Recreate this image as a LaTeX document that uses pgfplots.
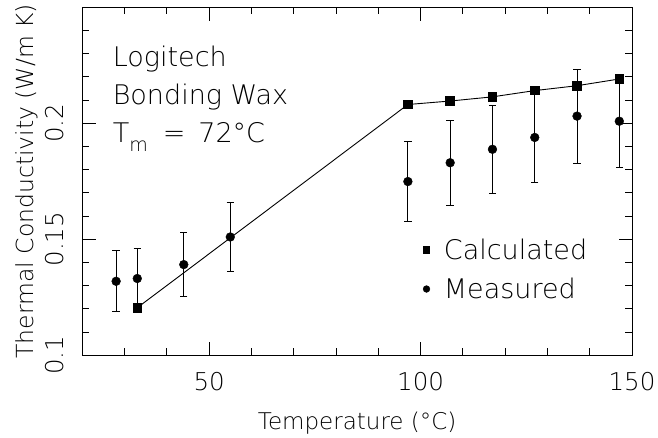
\documentclass[border=0pt]{standalone}
\usepackage{fontspec}
\setmainfont{DejaVu Sans ExtraLight}
\usepackage{pgfplots}
\pgfplotsset{compat=1.18}
\newcommand{\bigf}{\fontsize{24.5bp}{29bp}\selectfont}
\newcommand{\annf}{\fontsize{27bp}{32bp}\selectfont}
\begin{document}
\begin{tikzpicture}
\begin{axis}[
  scale only axis, width=549.7bp, height=348bp,
  xmin=20, xmax=150, ymin=0.1, ymax=0.25,
  xtick={50,100,150}, xticklabels={50,100,150},
  minor xtick={30,40,60,70,80,90,110,120,130,140},
  ytick={0.1,0.15,0.2}, yticklabels={0.1,0.15,0.2},
  minor ytick={0.11,0.12,0.13,0.14,0.16,0.17,0.18,0.19,0.21,0.22,0.23,0.24},
  major tick length=13.5bp, minor tick length=7bp,
  tick style={black, line width=0.9bp},
  axis line style={line width=1bp},
  tick align=inside,
  clip=false,
  /pgf/number format/assume math mode=true,
  tick label style={font=\bigf},
  xticklabel style={anchor=base}, xticklabel shift=35bp,
  yticklabel style={rotate=90, anchor=base}, yticklabel shift=19bp,
  xlabel={Temperature (°C)},
  xlabel style={at={(axis description cs:0.5,0)}, anchor=base, yshift=-73.7bp, font=\fontsize{23bp}{28bp}\selectfont},
  ylabel={Thermal Conductivity (W/m K)},
  ylabel style={at={([xshift=-49bp]axis description cs:0,0.5)}, anchor=base, font=\fontsize{23.5bp}{28bp}\selectfont},
  legend cell align=left,
  legend image code/.code={\draw[mark size=3.4bp] plot coordinates {(0bp,0bp)};},
  legend style={draw=none, fill=none, at={(rel axis cs:0.6200,0.3284)}, anchor=north west,
    inner sep=0pt, outer sep=0pt, row sep=21bp, column sep=14bp,
    font=\annf, nodes={inner sep=0pt, text height=18bp, text depth=0pt}},
]
\addplot[black, line width=0.9bp, mark=square*, mark size=4.3bp, mark options={solid}]
  table {
x y
33 0.1205
97 0.2081
107 0.2096
117 0.2114
127 0.2141
137 0.2162
147 0.2191
};
\addlegendentry{Calculated}
\addplot[black, only marks, mark=*, mark size=4.4bp,
  error bars/.cd, y dir=both, y explicit,
  error bar style={line width=0.9bp, black},
  error mark options={rotate=90, mark size=3.7bp, line width=0.9bp, black}]
  table[x=x, y=y, y error=e] {
x y e
28 0.1319 0.0132
33 0.1331 0.0131
44 0.1391 0.0137
55 0.1510 0.0150
97 0.1749 0.0174
107 0.1830 0.0183
117 0.1888 0.0190
127 0.1939 0.0195
137 0.2031 0.0203
147 0.2009 0.0200
};
\addlegendentry{Measured}
\node[anchor=base west, inner sep=0pt, font=\annf] at (rel axis cs:0.0551,0.8293) {Logitech};
\node[anchor=base west, inner sep=0pt, font=\annf] at (rel axis cs:0.0551,0.7207) {Bonding Wax};
\node[anchor=base west, inner sep=0pt, font=\annf] at (rel axis cs:0.0551,0.6115) {T\raisebox{-9bp}{\fontsize{19bp}{22bp}\selectfont m}\hspace{15bp}=\hspace{13bp}72°C};
\end{axis}
\pgfresetboundingbox
\path[use as bounding box] ([shift={(-82.3bp,-82.7bp)}]current axis.south west) rectangle ++(658bp,438bp);
\end{tikzpicture}
\end{document}
